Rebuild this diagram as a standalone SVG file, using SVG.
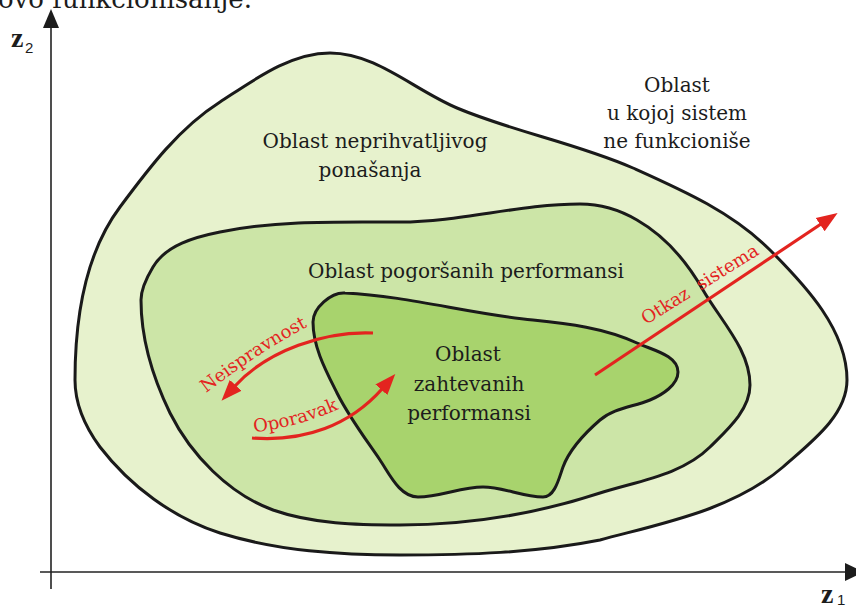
<svg xmlns="http://www.w3.org/2000/svg" width="856" height="608" viewBox="0 0 856 608">
  <style>
    .region { stroke: #1a1a1a; stroke-width: 3; stroke-linejoin: round; }
    .outer { fill: #e7f2cd; }
    .middle { fill: #cce5a7; }
    .inner { fill: #a8d36d; }
    .label { font-family: "DejaVu Serif", "Liberation Serif", serif; font-size: 20px; fill: #1c1c1c; text-anchor: middle; }
    .red-label { font-family: "DejaVu Serif", "Liberation Serif", serif; font-size: 18px; fill: #e3241f; }
    .axis { stroke: #222; stroke-width: 1.6; fill: none; }
    .flow { stroke: #e3241f; stroke-width: 3.2; fill: none; stroke-linecap: butt; }
    .axis-var { font-family: "Liberation Serif", "DejaVu Serif", serif; font-weight: bold; font-size: 28px; fill: #1c1c1c; }
    .axis-sub { font-family: "Liberation Sans", Arial, sans-serif; font-size: 15px; fill: #1c1c1c; }
  </style>
  <defs>
    <marker id="red-head" markerUnits="userSpaceOnUse" markerWidth="22" markerHeight="18" refX="1" refY="9" orient="auto">
      <path d="M0,1 L21,9 L0,17 Z" fill="#e3241f"/>
    </marker>
    <path id="arc-fault" d="M206,393 Q262,350 316,322"/>
    <path id="arc-recovery" d="M254,432 Q296,428 344,407"/>
  </defs>

  <rect width="856" height="608" fill="#ffffff"/>

  <!-- running text of the page, cut at the top edge -->
  <text x="-2" y="8" font-family="DejaVu Serif, Liberation Serif, serif" font-size="26" fill="#1c1c1c">ovo funkcionisanje.</text>

  <!-- axes -->
  <g id="axes">
    <line class="axis" x1="51" y1="26" x2="51" y2="589"/>
    <path d="M51,9 L59,28 L43,28 Z" fill="#1c1c1c"/>
    <line class="axis" x1="40" y1="572" x2="846" y2="572"/>
    <path d="M864,572 L845,563 L845,581 Z" fill="#1c1c1c"/>
    <text class="axis-var" x="11" y="47">z</text>
    <text class="axis-sub" x="25" y="53">2</text>
    <text class="axis-var" x="821" y="603">z</text>
    <text class="axis-sub" x="837" y="605">1</text>
  </g>

  <!-- region where the system does not work -->
  <g id="region-outer">
    <path class="region outer" d="M75,380 C75,320 84,255 120,207 C149,168 179,128 220,102 C254,80 290,53 330,53 C376,53 414,90 457,108 C514,132 576,143 633,168 C682,190 732,212 770,250 C806,286 847,330 847,380 C847,416 810,443 783,467 C733,510 663,523 600,540 C535,553 467,555 400,555 C340,555 278,551 220,533 C173,518 130,486 100,447 C86,428 75,404 75,380 Z"/>
    <text class="label" x="677" y="92">Oblast</text>
    <text class="label" x="677" y="120">u kojoj sistem</text>
    <text class="label" x="677" y="148">ne funkcioniše</text>
    <text class="label" x="375" y="148">Oblast neprihvatljivog</text>
    <text class="label" x="370" y="177">ponašanja</text>
  </g>

  <!-- degraded performance region -->
  <g id="region-middle">
    <path class="region middle" d="M141,300 C141,339 153,378 170,413 C191,455 229,494 273,510 C313,524 357,525 400,525 C467,525 536,514 600,493 C638,481 682,475 710,447 C727,430 750,410 750,385 C750,350 721,321 703,290 C687,262 665,236 637,220 C620,210 600,204 580,204 C520,204 460,222 400,222 C340,222 279,220 220,232 C195,237 166,245 153,267 C147,277 141,288 141,300 Z"/>
    <text class="label" x="466" y="278">Oblast pogoršanih performansi</text>
  </g>

  <!-- required performance region -->
  <g id="region-inner">
    <path class="region inner" d="M313,322 C313,308 331,292 345,293 C408,296 470,314 533,320 C568,323.5 605,328 637,343 C652,350 678,355 678,372 C678,385 662,395 650,400 C633,407 614,408 600,420 C585,433 570,448 563,467 C559,478 555,497 543,497 C523,497 503,487 483,487 C461,487 440,497 418,497 C400,497 390,475 380,460 C365,438 349,417 337,393 C326,371 313,347 313,322 Z"/>
    <text class="label" x="468" y="361">Oblast</text>
    <text class="label" x="469" y="391">zahtevanih</text>
    <text class="label" x="469" y="420">performansi</text>
  </g>

  <!-- transitions between regions -->
  <g id="connectors">
    <path class="flow" d="M373,333 C325,331 268,350 235,386" marker-end="url(#red-head)"/>
    <path class="flow" d="M252,438 C305,442 350,425 382,389" marker-end="url(#red-head)"/>
    <path class="flow" d="M595,375 L821,224" marker-end="url(#red-head)"/>
    <text class="red-label"><textPath href="#arc-fault">Neispravnost</textPath></text>
    <text class="red-label"><textPath href="#arc-recovery">Oporavak</textPath></text>
    <text class="red-label" transform="translate(646,325) rotate(-32)" xml:space="preserve">Otkaz  sistema</text>
  </g>
</svg>
